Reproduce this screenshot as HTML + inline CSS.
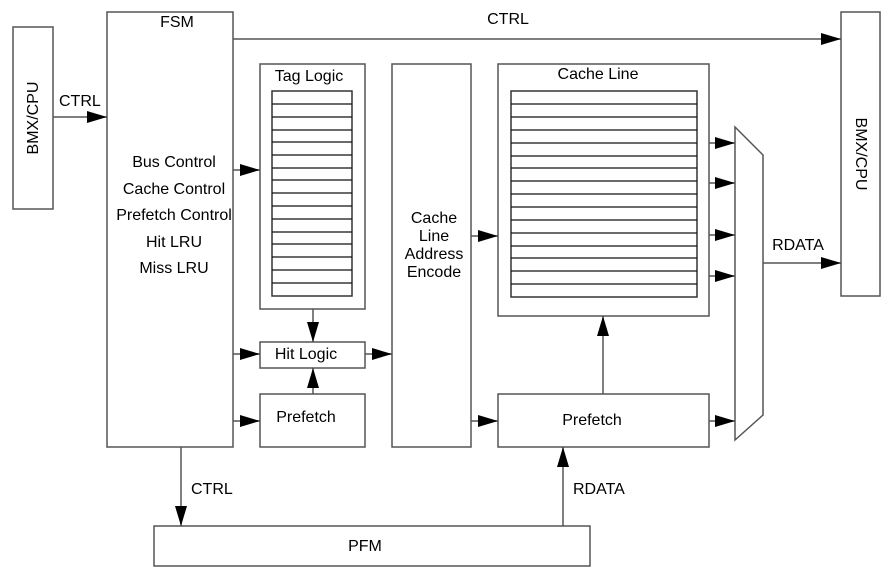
<!DOCTYPE html>
<html><head><style>body{margin:0;background:#fff}svg{display:block}text{font-family:"Liberation Sans",sans-serif;font-size:16px;fill:#000}</style></head><body>
<svg width="895" height="570" viewBox="0 0 895 570" xmlns="http://www.w3.org/2000/svg">
<defs><marker id="a" markerWidth="20" markerHeight="12" refX="20" refY="6" orient="auto" markerUnits="userSpaceOnUse"><path d="M0,0L20,6L0,12z" fill="#000"/></marker></defs>
<g fill="#fff" stroke="#555" stroke-width="1.5">
<rect x="13" y="27" width="40" height="182"/>
<rect x="107" y="12" width="126" height="435"/>
<rect x="260" y="64" width="105" height="245"/>
<rect x="272" y="91" width="80" height="205" stroke="#333"/>
<rect x="260" y="342" width="105" height="26"/>
<rect x="260" y="394" width="105" height="53"/>
<rect x="392" y="64" width="79" height="383"/>
<rect x="498" y="64" width="211" height="252"/>
<rect x="511" y="91" width="186" height="206" stroke="#333"/>
<rect x="498" y="394" width="211" height="53"/>
<rect x="154" y="526" width="436" height="40"/>
<rect x="841" y="12" width="39" height="284"/>
<path d="M735,127L763,155L763,415L735,440Z"/>
</g>
<g stroke="#555" stroke-width="1.5" fill="none" marker-end="url(#a)">
<line x1="53" y1="117" x2="107" y2="117"/>
<line x1="233" y1="39" x2="841" y2="39"/>
<line x1="233" y1="170" x2="260" y2="170"/>
<line x1="233" y1="354" x2="260" y2="354"/>
<line x1="233" y1="421" x2="260" y2="421"/>
<line x1="313" y1="309" x2="313" y2="342"/>
<line x1="313" y1="394" x2="313" y2="368"/>
<line x1="365" y1="354" x2="392" y2="354"/>
<line x1="471" y1="236" x2="498" y2="236"/>
<line x1="471" y1="421" x2="498" y2="421"/>
<line x1="709" y1="143" x2="735" y2="143"/>
<line x1="709" y1="183" x2="735" y2="183"/>
<line x1="709" y1="235" x2="735" y2="235"/>
<line x1="709" y1="276" x2="735" y2="276"/>
<line x1="709" y1="421" x2="735" y2="421"/>
<line x1="763" y1="263" x2="841" y2="263"/>
<line x1="603" y1="394" x2="603" y2="316"/>
<line x1="181" y1="447" x2="181" y2="526"/>
<line x1="563" y1="526" x2="563" y2="447"/>
</g>
<g stroke="#111" stroke-width="1.2">
<path d="M272,104H352M272,117H352M272,130H352M272,142H352M272,155H352M272,168H352M272,180H352M272,193H352M272,206H352M272,219H352M272,232H352M272,244H352M272,257H352M272,270H352M272,283H352"/>
<path d="M511,104H697M511,117H697M511,130H697M511,143H697M511,156H697M511,168H697M511,181H697M511,194H697M511,207H697M511,220H697M511,233H697M511,246H697M511,258H697M511,271H697M511,284H697"/>
</g>
<g text-anchor="middle">
<text x="177" y="27">FSM</text>
<text x="508" y="24">CTRL</text>
<text x="174" y="167">Bus Control</text>
<text x="174" y="194">Cache Control</text>
<text x="174" y="220">Prefetch Control</text>
<text x="174" y="247">Hit LRU</text>
<text x="174" y="273">Miss LRU</text>
<text x="309" y="81">Tag Logic</text>
<text x="598" y="79">Cache Line</text>
<text x="306" y="359">Hit Logic</text>
<text x="306" y="422">Prefetch</text>
<text x="592" y="425">Prefetch</text>
<text x="434" y="223">Cache</text>
<text x="434" y="241">Line</text>
<text x="434" y="259">Address</text>
<text x="434" y="277">Encode</text>
<text x="798" y="250">RDATA</text>
<text x="365" y="551">PFM</text>
<text transform="translate(38,118) rotate(-90)">BMX/CPU</text>
<text transform="translate(856,154) rotate(90)">BMX/CPU</text>
</g>
<text x="59" y="106">CTRL</text>
<text x="191" y="494">CTRL</text>
<text x="573" y="494">RDATA</text>
</svg>
</body></html>
